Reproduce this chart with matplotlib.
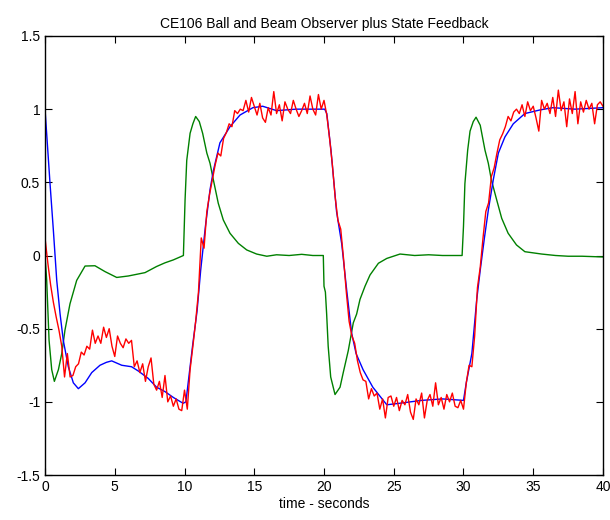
import numpy as np
import matplotlib.pyplot as plt

plt.rcParams['font.family'] = ['Liberation Sans', 'DejaVu Sans']

# measured ball position (noisy), sampled every 0.2 s
red_t = np.arange(0, 40.01, 0.2)
red_y = [0.12, -0.05, -0.2, -0.32, -0.42,
         -0.51, -0.62, -0.83, -0.67, -0.83,
         -0.82, -0.76, -0.74, -0.66, -0.68,
         -0.62, -0.64, -0.51, -0.6, -0.55,
         -0.6, -0.49, -0.56, -0.5, -0.62,
         -0.69, -0.55, -0.6, -0.63, -0.57,
         -0.6, -0.58, -0.76, -0.72, -0.8,
         -0.74, -0.86, -0.76, -0.7, -0.88,
         -0.92, -0.86, -0.97, -0.82, -1.0,
         -0.96, -1.03, -0.98, -1.05, -1.06,
         -0.92, -1.05, -0.78, -0.62, -0.45,
         -0.25, 0.12, 0.05, 0.3, 0.42,
         0.52, 0.62, 0.7, 0.68, 0.8,
         0.84, 0.9, 0.88, 0.99, 0.97,
         1.0, 0.99, 1.06, 0.98, 1.08,
         1.02, 0.96, 1.04, 0.94, 0.91,
         1.01, 0.96, 1.12, 0.97, 1.03,
         0.92, 1.05, 1.0, 0.97, 1.06,
         1.0, 0.95, 0.99, 1.04, 0.97,
         1.09, 1.0, 0.96, 1.1, 1.0,
         1.06, 0.96, 0.8, 0.62, 0.4,
         0.24, 0.18, -0.02, -0.25, -0.45,
         -0.55, -0.6, -0.72, -0.8, -0.85,
         -0.86, -0.98, -0.91, -0.96, -0.94,
         -1.05, -0.98, -1.11, -0.97, -0.96,
         -1.03, -0.97, -1.06, -0.99, -1.02,
         -0.95, -1.07, -1.12, -0.98, -1.02,
         -0.94, -1.11, -0.99, -0.95, -1.03,
         -0.87, -1.02, -0.97, -1.05, -0.95,
         -1.0, -0.94, -1.03, -1.04, -0.99,
         -1.05, -0.87, -0.75, -0.76, -0.55,
         -0.22, -0.08, 0.12, 0.3, 0.36,
         0.54, 0.6, 0.7, 0.79, 0.83,
         0.88, 0.95, 0.92, 0.98, 1.0,
         0.97, 1.03, 0.95, 1.05, 0.99,
         1.02, 0.94, 0.85, 1.06, 1.0,
         1.04, 0.97, 1.08, 0.95, 1.13,
         0.99, 1.05, 0.88, 1.07, 0.97,
         1.12, 0.9, 1.05, 0.98, 1.06,
         1.0, 1.04, 0.9, 1.03, 1.05,
         1.02]

# observer estimate
blue_t = [0, 0.36, 0.6, 0.84, 1.08, 1.31, 1.67, 2.03, 2.39, 2.87, 3.35, 3.94, 4.4, 4.78, 5.5, 6.2, 6.7,
          7.4, 8.0, 8.6, 9.2, 9.9, 10.1, 10.4, 10.6, 10.9, 11.16, 11.5, 11.83, 12.07, 12.54, 13.26,
          13.98, 14.9, 15.6, 16.6, 18, 19.5, 20.05, 20.2, 20.5, 20.9, 21.27, 21.63, 21.98, 22.3, 22.8,
          23.5, 24.5, 25.4, 27, 28.5, 30.0, 30.2, 30.6, 30.95, 31.2, 31.5, 31.78, 32.14, 32.5,
          32.97, 33.57, 34.4, 35.5, 36.4, 38, 40]
blue_y = [1.0, 0.49, 0.17, -0.17, -0.4, -0.58, -0.76, -0.87, -0.91, -0.87, -0.8, -0.75, -0.73, -0.72, -0.75, -0.76, -0.79,
          -0.84, -0.9, -0.93, -0.97, -1.01, -1.0, -0.76, -0.6, -0.38, -0.1, 0.2, 0.45, 0.58, 0.77, 0.88,
          0.96, 1.01, 1.02, 0.99, 1.0, 1.0, 1.0, 0.97, 0.72, 0.3, 0.08, -0.24, -0.53, -0.67, -0.78,
          -0.9, -1.02, -1.01, -0.99, -0.98, -0.99, -0.87, -0.67, -0.3, -0.1, 0.12, 0.31, 0.52, 0.7,
          0.81, 0.9, 0.97, 0.995, 1.01, 1.0, 1.01]

# control signal
green_t = [0, 0.12, 0.29, 0.48, 0.67, 0.96, 1.2, 1.43, 1.79, 2.27, 2.87, 3.58, 4.3, 5.14, 5.97, 7.17,
           8.0, 8.6, 9.2, 9.92, 10.04, 10.16, 10.4, 10.6, 10.8, 11.06, 11.3, 11.6, 11.83, 12.07, 12.42,
           12.78, 13.26, 13.86, 14.46, 15.17, 15.9, 16.6, 17.5, 18.4, 19.2, 19.95, 20.0, 20.1, 20.19,
           20.3, 20.48, 20.79, 21.15, 21.38, 21.74, 22.1, 22.34, 22.58, 22.94, 23.3, 23.9, 24.5, 25.45,
           26.5, 27.5, 28.5, 29.9, 30.0, 30.1, 30.3, 30.47, 30.7, 30.9, 31.2, 31.54, 31.78, 32.0, 32.38,
           32.74, 33.2, 33.8, 34.4, 35.6, 36.6, 37.5, 38.5, 40]
green_y = [0.0, -0.17, -0.58, -0.78, -0.86, -0.78, -0.67, -0.51, -0.33, -0.17, -0.072, -0.07, -0.11, -0.15, -0.14, -0.117,
           -0.075, -0.05, -0.03, 0.0, 0.38, 0.65, 0.835, 0.9, 0.95, 0.915, 0.835, 0.7, 0.63, 0.516, 0.357,
           0.243, 0.152, 0.083, 0.038, 0.01, -0.005, 0.005, 0.0, 0.008, 0.0, 0.0, -0.21, -0.25, -0.4,
           -0.62, -0.83, -0.95, -0.9, -0.8, -0.65, -0.46, -0.4, -0.3, -0.21, -0.133, -0.053, -0.02, 0.01,
           0.0, 0.005, 0.0, 0.0, 0.2, 0.49, 0.72, 0.85, 0.915, 0.945, 0.89, 0.72, 0.63, 0.516, 0.38,
           0.254, 0.152, 0.072, 0.026, 0.01, 0.0, -0.005, -0.005, -0.01]

fig = plt.figure(figsize=(6.1, 5.2), dpi=100)
ax = fig.add_axes([0.0738, 0.0865, 0.9147, 0.8443])

ax.plot(green_t, green_y, color=(0, 0.5, 0), lw=1)
ax.plot(blue_t, blue_y, color='blue', lw=1)
ax.plot(red_t, red_y, color='red', lw=1)

ax.set_xlim(0, 40)
ax.set_ylim(-1.5, 1.5)
ax.set_xticks(np.arange(0, 41, 5))
ax.set_yticks(np.arange(-1.5, 1.51, 0.5))
ax.set_yticklabels(['-1.5', '-1', '-0.5', '0', '0.5', '1', '1.5'])
ax.tick_params(direction='in', top=True, right=True, labelsize=10, length=5)
for s in ax.spines.values():
    s.set_linewidth(1)

ax.set_title('CE106 Ball and Beam Observer plus State Feedback', fontsize=10, pad=6)
ax.set_xlabel('time - seconds', fontsize=10, labelpad=2)

fig.savefig('out.png', dpi=100)
